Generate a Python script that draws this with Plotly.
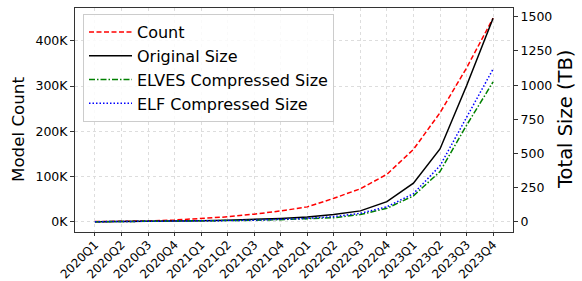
import plotly.graph_objects as go

quarters = ["2020Q1", "2020Q2", "2020Q3", "2020Q4",
            "2021Q1", "2021Q2", "2021Q3", "2021Q4",
            "2022Q1", "2022Q2", "2022Q3", "2022Q4",
            "2023Q1", "2023Q2", "2023Q3", "2023Q4"]
model_count = [500, 1000, 2000, 4000, 7000, 11000, 17000, 24000,
               33000, 52000, 73000, 105000, 160000, 241000, 340000, 450000]
original_size = [1, 2, 4, 6, 8, 12, 17, 25, 35, 53, 80, 148, 283, 533, 995, 1490]
elves_size = [0.5, 1.5, 3, 4, 6, 8, 11, 16, 21, 30, 53, 99, 190, 368, 706, 1024]
elf_size = [0.7, 1.6, 3, 4.5, 6.5, 9, 12, 18, 25, 38, 62, 110, 206, 410, 765, 1118]

left_ticks = [0, 100000, 200000, 300000, 400000]
left_labels = ["0K", "100K", "200K", "300K", "400K"]
right_ticks = [0, 250, 500, 750, 1000, 1250, 1500]

FONT = "DejaVu Sans"
W, H = 582, 281
ML, MR, MT, MB = 75, 69, 8, 49
PW, PH = W - ML - MR, H - MT - MB
cmax = max(model_count)
smax = max(original_size + elves_size + elf_size)
n = len(quarters)

fig = go.Figure()
fig.add_trace(go.Scatter(x=quarters, y=model_count, name="Count", mode="lines",
                         line=dict(color="#ff0000", width=1.5, dash="5px,2.5px"), yaxis="y"))
fig.add_trace(go.Scatter(x=quarters, y=original_size, name="Original Size", mode="lines",
                         line=dict(color="#000000", width=1.5), yaxis="y2"))
fig.add_trace(go.Scatter(x=quarters, y=elves_size, name="ELVES Compressed Size", mode="lines",
                         line=dict(color="#008000", width=1.5, dash="6px,2px,1.5px,2px"), yaxis="y2"))
fig.add_trace(go.Scatter(x=quarters, y=elf_size, name="ELF Compressed Size", mode="lines",
                         line=dict(color="#0000ff", width=1.5, dash="1.5px,2px"), yaxis="y2"))

axis_common = dict(showline=True, linecolor="#333333", linewidth=1, ticks="outside",
                   tickcolor="#333333", zeroline=False, automargin=False)

def px_x(px):
    return (px - ML) / PW

def px_y(py):
    return (H - MB - py) / PH

fig.update_layout(
    width=W, height=H,
    margin=dict(l=ML, r=MR, t=MT, b=MB),
    paper_bgcolor="white", plot_bgcolor="white",
    font=dict(family=FONT, color="black"),
    showlegend=True,
    legend=dict(x=px_x(83), y=px_y(14), xanchor="left", yanchor="top",
                itemwidth=43,
                bgcolor="rgba(255,255,255,0.85)", bordercolor="#cccccc", borderwidth=1,
                font=dict(family=FONT, size=16, color="black")),
    xaxis=dict(type="category", range=[-0.75, n - 1 + 0.75], tickangle=-45,
               showgrid=True, gridcolor="#dddddd", griddash="dot", gridwidth=1,
               mirror=True, ticklen=3, ticklabelstandoff=-3,
               tickfont=dict(family=FONT, size=12, color="black"), **axis_common),
    yaxis=dict(range=[-0.05 * cmax, 1.05 * cmax], tickvals=left_ticks, ticktext=left_labels,
               showgrid=True, gridcolor="#dddddd", griddash="dot", gridwidth=1,
               mirror=False, ticklen=4,
               tickfont=dict(family=FONT, size=12.5, color="black"), **axis_common),
    yaxis2=dict(range=[-0.05 * smax, 1.05 * smax], tickvals=right_ticks,
                overlaying="y", side="right", showgrid=False, ticklen=4,
                tickfont=dict(family=FONT, size=12.5, color="black"), **axis_common),
    annotations=[
        dict(text="Model Count", xref="paper", yref="paper", x=px_x(18), y=px_y(130),
             xanchor="center", yanchor="middle", textangle=-90, showarrow=False,
             font=dict(family=FONT, size=16.7, color="black")),
        dict(text="Total Size (TB)", xref="paper", yref="paper", x=px_x(565), y=px_y(120),
             xanchor="center", yanchor="middle", textangle=-90, showarrow=False,
             font=dict(family=FONT, size=19.5, color="black")),
    ],
)

fig.write_html("out.html", config={"displayModeBar": False},
               post_script="document.body.style.margin='0px';document.body.style.padding='0px';")
